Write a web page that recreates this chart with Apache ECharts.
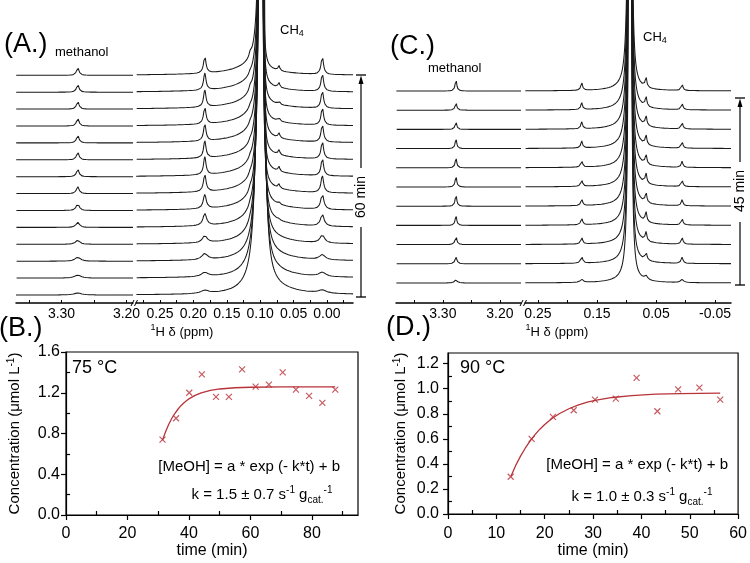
<!DOCTYPE html>
<html>
<head>
<meta charset="utf-8">
<script src="https://cdn.jsdelivr.net/npm/echarts@6.0.0/dist/echarts.min.js"></script>
<style>html,body{margin:0;padding:0;background:#fff;}#chart{width:750px;height:563px;}</style>
</head>
<body>
<div id="chart"></div>
<script>
// ===================== DATA =====================
// Panel A (75 °C) 1H spectra: 14 traces, listed top (latest) to bottom (earliest)
const peakPpmA = [3.275, 0.183, 0.007, 0.115, 0.072]; // methanol, 0.18 peak, 0.00 peak, CH4 left shoulder, CH4 right bump
const ch4PpmA = 0.098;
const methanolA = [8, 8, 8, 8, 8, 8, 8, 7, 7, 5, 4, 4, 3, 2];
const peak183A = [17, 17, 17, 17, 17, 17, 18, 17, 14, 12, 7, 6, 4, 3];
const peak007A = [18, 18, 18, 18, 18, 18, 18, 17, 16, 12, 8, 5, 4, 3];
const shoulderA = [4, 2, 4, 2, 2, 2, 2, 2, 3, 2, 1, 0, 0, 0];
const bumpA = [5, 5, 3, 4, 5, 5, 5, 4, 2, 1, 0, 0, 0, 0];
const halfWidthA = [0.0022, 0.0022, 0.0022, 0.0022, 0.0022, 0.0022, 0.0022, 0.0024, 0.0027, 0.0032, 0.004, 0.005, 0.006, 0.007];
const ch4LeftA = [0.0037, 0.0037, 0.0038, 0.0038, 0.004, 0.004, 0.0042, 0.0045, 0.005, 0.006, 0.0075, 0.009, 0.011, 0.013];
const ch4LeftBroadA = [10, 10, 10, 9.5, 9.5, 9, 9, 8.5, 8, 7, 5, 3.5, 2, 1];
const ch4RightA = [0.0008, 0.0008, 0.0009, 0.0009, 0.001, 0.001, 0.0011, 0.0012, 0.0016, 0.0022, 0.003, 0.004, 0.005, 0.0063];
const ch4RightBroadA = [5.4, 5.4, 5.5, 5.5, 5.6, 5.7, 5.8, 6, 6.5, 7, 7.5, 8, 8.5, 9.3];

// Panel C (90 °C) 1H spectra: 11 traces, top to bottom
const peakPpmC = [3.277, 0.176, 0.067, 0.006];
const ch4PpmC = 0.094;
const methanolC = [12, 8, 8, 10, 10, 11, 12, 10, 9, 7, 3];
const peak176C = [8, 7, 7, 7, 7, 7, 7, 7, 7, 7, 3];
const peak067C = [10, 10, 10, 10, 10, 10, 10, 10, 9, 8, 4];
const peak006C = [7, 7, 7, 7, 6, 7, 6, 7, 7, 6, 3];
const halfWidthC = [0.0017, 0.0017, 0.0017, 0.0017, 0.0017, 0.0017, 0.0017, 0.0017, 0.0018, 0.002, 0.003];
const ch4LeftC = [0.0035, 0.0035, 0.0035, 0.0035, 0.0034, 0.0034, 0.0033, 0.0033, 0.0032, 0.0031, 0.003];
const ch4RightC = [0.0025, 0.0025, 0.0025, 0.0025, 0.0024, 0.0024, 0.0024, 0.0023, 0.0023, 0.0022, 0.0022];
const ch4BroadC = [1.5, 1.5, 1.5, 1.5, 1.5, 1.5, 1.5, 1.5, 1.5, 1.5, 1.5];

// ppm axis ticks / labels
const ticksA1 = [3.35, 3.30, 3.25, 3.20];
const labelsA1 = [3.30, 3.20];
const ticksA2 = [0.275, 0.25, 0.225, 0.20, 0.175, 0.15, 0.125, 0.10, 0.075, 0.05, 0.025, 0.00, -0.025];
const labelsA2 = [0.25, 0.20, 0.15, 0.10, 0.05, 0.00];
const ticksC1 = [3.35, 3.30, 3.25, 3.20];
const labelsC1 = [3.30, 3.20];
const ticksC2 = [0.25, 0.20, 0.15, 0.10, 0.05, 0.00, -0.05];
const labelsC2 = [0.25, 0.15, 0.05, -0.05];

// Panel B (75 °C) kinetics
const timeB = [31.4, 35.8, 40.1, 44.2, 48.8, 53.0, 57.3, 61.7, 66.0, 70.5, 74.8, 79.1, 83.4, 87.6];
const concB = [0.74, 0.95, 1.20, 1.38, 1.16, 1.16, 1.43, 1.26, 1.28, 1.40, 1.23, 1.17, 1.10, 1.23];
const fitTimeB = [31.4, 32.4, 33.4, 34.4, 35.4, 36.4, 37.4, 38.4, 40, 42, 44, 47, 50, 55, 60, 70, 87.6];
const fitConcB = [0.735, 0.818, 0.888, 0.947, 0.996, 1.038, 1.073, 1.102, 1.140, 1.174, 1.199, 1.223, 1.237, 1.249, 1.254, 1.257, 1.258];
const xLabelsB = [0, 20, 40, 60, 80];
const xMinorB = [10, 30, 50, 70, 90];
const yLabelsB = [0, 0.4, 0.8, 1.2, 1.6];
const yMinorB = [0.2, 0.6, 1.0, 1.4];

// Panel D (90 °C) kinetics
const timeD = [12.97, 17.3, 21.7, 26.0, 30.4, 34.7, 39.0, 43.3, 47.6, 52.0, 56.3];
const concD = [0.297, 0.60, 0.775, 0.828, 0.913, 0.921, 1.086, 0.820, 0.995, 1.009, 0.913];
const fitTimeD = [13, 14, 15, 16, 17, 18, 19, 20, 21.5, 23, 25, 27, 29, 31, 34, 38, 43, 48, 52, 56.3];
const fitConcD = [0.300, 0.387, 0.462, 0.527, 0.584, 0.634, 0.677, 0.714, 0.762, 0.800, 0.840, 0.871, 0.894, 0.911, 0.930, 0.945, 0.956, 0.961, 0.963, 0.964];
const xLabelsD = [0, 10, 20, 30, 40, 50, 60];
const xMinorD = [5, 15, 25, 35, 45, 55];
const yLabelsD = [0, 0.2, 0.4, 0.6, 0.8, 1.0, 1.2];
const yMinorD = [0.1, 0.3, 0.5, 0.7, 0.9, 1.1];

// ===================== RENDERING =====================
const FONT = 'Arial, "Liberation Sans", Helvetica, sans-serif';
const INK = '#000';
const TRACE = '#1a1a1a';
const RED = '#b8323a';

function lor(x, x0, h, w) { const u = (x - x0) / w; return h / (1 + u * u); }
function ch4Wing(x, x0, aL, bL, aR, bR) {
  const d = x - x0, g = 0.0004, c = 0.04, d2 = d * d;
  return d >= 0 ? aL / (d2 + g * g) + bL * c * c / (d2 + c * c)
                : aR / (d2 + g * g) + bR * c * c / (d2 + c * c);
}
function samples(lo, hi, step, dense) {
  const out = [];
  for (let k = 0; ; k++) { const x = lo + k * step; if (x > hi) break; out.push(x); }
  out.push(hi);
  dense.forEach(([c, r, s]) => {
    const n = Math.round(2 * r / s);
    for (let k = 0; k <= n; k++) { const x = c - r + k * s; if (x >= lo && x <= hi) out.push(x); }
  });
  out.sort((a, b) => a - b);
  return out;
}

const series = [];
const traceStyle = { color: TRACE, width: 1.05 };
function addTrace(xi, pts) {
  series.push({ type: 'line', xAxisIndex: xi, yAxisIndex: xi, data: pts, showSymbol: false, symbol: 'none',
    lineStyle: traceStyle, silent: true, animation: false, clip: true, z: 2 });
}

// Panel A
const nA = methanolA.length, baseA = 8, stepA = 16.9;
const xsA1 = samples(3.19, 3.37, 0.0003, [[peakPpmA[0], 0.012, 0.00005]]);
const xsA2 = samples(-0.039, 0.286, 0.0004, [[ch4PpmA, 0.015, 0.00004], [peakPpmA[1], 0.008, 0.0001], [peakPpmA[2], 0.008, 0.0001], [peakPpmA[3], 0.005, 0.0001], [peakPpmA[4], 0.005, 0.0001]]);
for (let i = 0; i < nA; i++) {
  const off = baseA + stepA * (nA - 1 - i);
  addTrace(0, xsA1.map(x => [x, off + lor(x, peakPpmA[0], methanolA[i], halfWidthA[i])]));
  addTrace(1, xsA2.map(x => [x, off
    + lor(x, peakPpmA[1], peak183A[i], halfWidthA[i])
    + lor(x, peakPpmA[2], peak007A[i], halfWidthA[i])
    + lor(x, peakPpmA[3], shoulderA[i], 0.002)
    + lor(x, peakPpmA[4], bumpA[i], 0.0015)
    + ch4Wing(x, ch4PpmA, ch4LeftA[i], ch4LeftBroadA[i], ch4RightA[i], ch4RightBroadA[i])]));
}

// Panel C
const nC = methanolC.length, baseC = 20, stepC = 19.2;
const xsC1 = samples(3.163, 3.382, 0.0003, [[peakPpmC[0], 0.012, 0.00005]]);
const xsC2 = samples(-0.077, 0.272, 0.0004, [[ch4PpmC, 0.015, 0.00004], [peakPpmC[1], 0.008, 0.0001], [peakPpmC[2], 0.008, 0.0001], [peakPpmC[3], 0.008, 0.0001]]);
for (let i = 0; i < nC; i++) {
  const off = baseC + stepC * (nC - 1 - i);
  addTrace(2, xsC1.map(x => [x, off + lor(x, peakPpmC[0], methanolC[i], halfWidthC[i])]));
  addTrace(3, xsC2.map(x => [x, off
    + lor(x, peakPpmC[1], peak176C[i], halfWidthC[i])
    + lor(x, peakPpmC[2], peak067C[i], halfWidthC[i])
    + lor(x, peakPpmC[3], peak006C[i], halfWidthC[i])
    + ch4Wing(x, ch4PpmC, ch4LeftC[i], ch4BroadC[i], ch4RightC[i], ch4BroadC[i])]));
}

// Kinetic panels
const xMark = 'path://M0,0L10,10M10,0L0,10';
function kinetics(ax, t, c, ft, fc) {
  series.push({ type: 'line', xAxisIndex: ax, yAxisIndex: ax, data: ft.map((v, k) => [v, fc[k]]),
    smooth: false, showSymbol: false, symbol: 'none',
    lineStyle: { color: RED, width: 1.3, join: 'round' }, animation: false, z: 3 });
  series.push({ type: 'scatter', xAxisIndex: ax, yAxisIndex: ax, data: t.map((v, k) => [v, c[k]]),
    symbol: xMark, symbolSize: 6, itemStyle: { color: 'transparent', borderColor: RED, borderWidth: 1.2 },
    animation: false, z: 4 });
}
kinetics(4, timeB, concB, fitTimeB, fitConcB);
kinetics(6, timeD, concD, fitTimeD, fitConcD);

// ---- axes ----
const ppmFmt = v => v.toFixed(2);
function ppmAxis(g, min, max, ticks, labels) {
  return { gridIndex: g, type: 'value', inverse: true, min, max, position: 'bottom',
    axisLine: { show: true, onZero: false, lineStyle: { color: INK, width: 1.5 } },
    axisTick: { show: true, inside: true, length: 3, customValues: ticks, lineStyle: { color: INK, width: 1 } },
    axisLabel: { show: true, customValues: labels, formatter: ppmFmt, fontSize: 14, fontFamily: FONT, color: INK, margin: 4, hideOverlap: false },
    splitLine: { show: false } };
}
function hiddenY(g) { return { gridIndex: g, type: 'value', min: 0, max: 303, show: false, splitLine: { show: false } }; }

function mainX(g, max, labels, name, margin) {
  return { gridIndex: g, type: 'value', min: 0, max, position: 'bottom',
    axisLine: { show: true, onZero: false, lineStyle: { color: INK, width: 1.2 } },
    axisTick: { show: true, length: 5, customValues: labels, lineStyle: { color: INK, width: 1.2 } },
    axisLabel: { customValues: labels, fontSize: 16, fontFamily: FONT, color: INK, margin },
    splitLine: { show: false },
    name, nameLocation: 'middle', nameGap: 25, nameTextStyle: { fontSize: 16, fontFamily: FONT, color: INK } };
}
function minorX(g, max, minors) {
  return { gridIndex: g, type: 'value', min: 0, max, position: 'bottom',
    axisLine: { show: false }, axisLabel: { show: false }, splitLine: { show: false },
    axisTick: { show: true, inside: true, length: 4, customValues: minors, lineStyle: { color: INK, width: 1.2 } } };
}
const yName = 'Concentration (μmol L{sup|-1})';
function mainY(g, max, labels, margin, gap) {
  return { gridIndex: g, type: 'value', min: 0, max, position: 'left',
    axisLine: { show: true, onZero: false, lineStyle: { color: INK, width: 1.2 } },
    axisTick: { show: true, length: 5, customValues: labels, lineStyle: { color: INK, width: 1.2 } },
    axisLabel: { customValues: labels, formatter: v => v.toFixed(1), fontSize: 16, fontFamily: FONT, color: INK, margin },
    splitLine: { show: false },
    name: yName, nameLocation: 'middle', nameGap: gap, nameRotate: 90,
    nameTextStyle: { fontSize: 15, fontFamily: FONT, color: INK, lineHeight: 18,
      rich: { sup: { fontSize: 10, fontFamily: FONT, color: INK, verticalAlign: 'top', lineHeight: 10 } } } };
}
function minorY(g, max, minors) {
  return { gridIndex: g, type: 'value', min: 0, max, position: 'left',
    axisLine: { show: false }, axisLabel: { show: false }, splitLine: { show: false },
    axisTick: { show: true, inside: true, length: 4, customValues: minors, lineStyle: { color: INK, width: 1.2 } } };
}

// ---- graphic text ----
function richFor(size) {
  return {
    sup: { fontSize: Math.round(size * 0.68), fontFamily: FONT, fill: INK, verticalAlign: 'top', lineHeight: Math.round(size * 0.7) },
    sub: { fontSize: Math.round(size * 0.68), fontFamily: FONT, fill: INK, verticalAlign: 'bottom', lineHeight: Math.round(size * 0.7) }
  };
}
function txt(x, y, text, size, align, rotation) {
  const el = { type: 'text', x, y, silent: true, z: 10,
    style: { text, fill: INK, fontSize: size, fontFamily: FONT, align: align || 'left', verticalAlign: 'middle',
      lineHeight: Math.round(size * 1.3), rich: richFor(size) } };
  if (rotation) el.rotation = rotation;
  return el;
}
function seg(x1, y1, x2, y2, w) {
  return { type: 'line', silent: true, z: 10, shape: { x1, y1, x2, y2 }, style: { stroke: INK, lineWidth: w || 1.2 } };
}
function timeArrow(x, yTop, yBot, gapTop, gapBot, label, labelY) {
  return [
    seg(x - 5, yTop, x + 5, yTop, 1.3),
    { type: 'polygon', silent: true, z: 10, shape: { points: [[x, yTop + 0.5], [x - 2.5, yTop + 9], [x + 2.5, yTop + 9]] }, style: { fill: INK } },
    seg(x, yTop + 6, x, gapTop),
    seg(x, gapBot, x, yBot),
    seg(x - 5, yBot, x + 5, yBot, 1.3),
    txt(x, labelY, label, 14, 'center', Math.PI / 2)
  ];
}
const eqText = '[MeOH] = a * exp (- k*t) + b';
const graphic = [
  txt(4, 45, '(A.)', 27),
  txt(55, 52, 'methanol', 13),
  txt(280, 30, 'CH{sub|4}', 13),
  txt(182, 332, '{sup|1}H δ (ppm)', 13, 'center'),
  seg(131, 306, 134, 300, 1), seg(134.5, 306, 137.5, 300, 1),
  ...timeArrow(361, 75, 297, 168, 227, '60 min', 197),
  txt(390, 47, '(C.)', 27),
  txt(428, 68, 'methanol', 13),
  txt(643, 37, 'CH{sub|4}', 13),
  txt(557, 332, '{sup|1}H δ (ppm)', 13, 'center'),
  seg(520, 306, 523, 300, 1), seg(523.5, 306, 526.5, 300, 1),
  ...timeArrow(740, 98, 285, 162, 222, '45 min', 191),
  txt(-1, 329, '(B.)', 27),
  txt(386, 328, '(D.)', 27),
  txt(72, 368, '75 °C', 18),
  txt(340, 467, eqText, 15, 'right'),
  txt(262, 495, 'k = 1.5 ± 0.7 s{sup|-1} g{sub|cat.}{sup|-1}', 15, 'center'),
  txt(460, 368, '90 °C', 18),
  txt(728, 465, eqText, 15, 'right'),
  txt(642, 497, 'k = 1.0 ± 0.3 s{sup|-1} g{sub|cat.}{sup|-1}', 15, 'center')
];

const option = {
  animation: false,
  backgroundColor: '#fff',
  textStyle: { fontFamily: FONT },
  grid: [
    { left: 16, top: 0, width: 117, height: 303 },
    { left: 136, top: 0, width: 217, height: 303 },
    { left: 396, top: 0, width: 125, height: 303 },
    { left: 525, top: 0, width: 206, height: 303 },
    { left: 66, top: 352, width: 292, height: 163, show: true, borderColor: INK, borderWidth: 1.2, backgroundColor: 'transparent' },
    { left: 448, top: 353, width: 293, height: 161, show: true, borderColor: INK, borderWidth: 1.2, backgroundColor: 'transparent' }
  ],
  xAxis: [
    ppmAxis(0, 3.19, 3.37, ticksA1, labelsA1),
    ppmAxis(1, -0.039, 0.286, ticksA2, labelsA2),
    ppmAxis(2, 3.163, 3.382, ticksC1, labelsC1),
    ppmAxis(3, -0.077, 0.272, ticksC2, labelsC2),
    mainX(4, 95, xLabelsB, 'time (min)', 11),
    minorX(4, 95, xMinorB),
    mainX(5, 60, xLabelsD, 'time (min)', 12),
    minorX(5, 60, xMinorD)
  ],
  yAxis: [
    hiddenY(0), hiddenY(1), hiddenY(2), hiddenY(3),
    mainY(4, 1.6, yLabelsB, 6, 42),
    minorY(4, 1.6, yMinorB),
    mainY(5, 1.285, yLabelsD, 9, 38),
    minorY(5, 1.285, yMinorD)
  ],
  series,
  graphic
};

const chart = echarts.init(document.getElementById('chart'), null, { renderer: 'canvas' });
chart.setOption(option);
</script>
</body>
</html>
